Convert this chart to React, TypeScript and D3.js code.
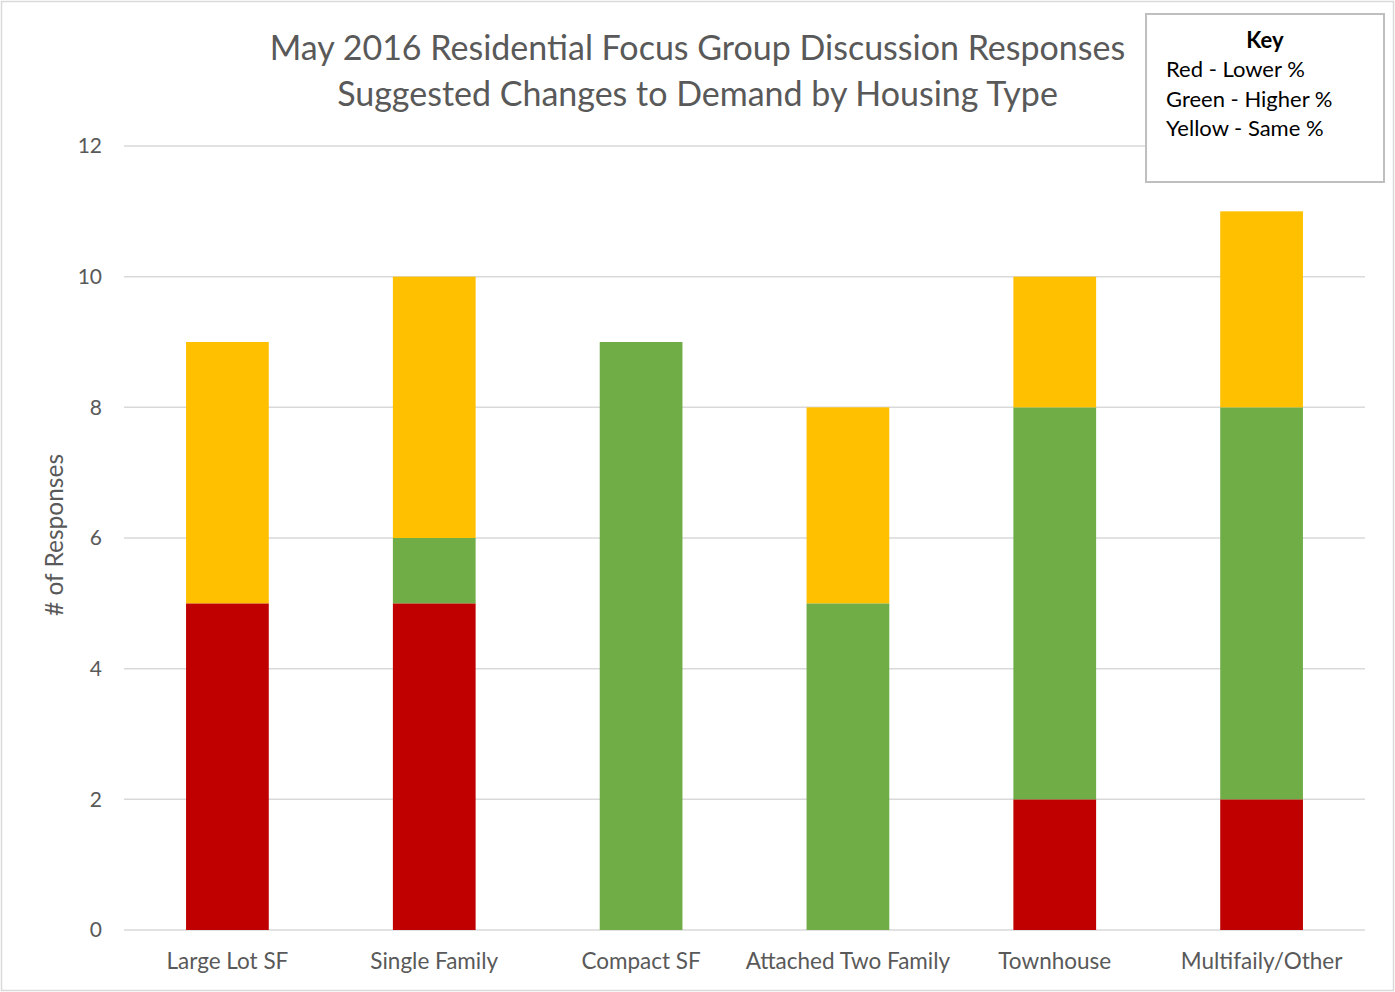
import React, { useRef, useEffect } from 'react';
import * as d3 from 'd3';

const categories = ['Large Lot SF', 'Single Family', 'Compact SF', 'Attached Two Family', 'Townhouse', 'Multifaily/Other'];
const lowerValues = [5, 5, 0, 0, 2, 2];
const higherValues = [0, 1, 9, 5, 6, 6];
const sameValues = [4, 4, 0, 3, 2, 3];
const yTicks = [0, 2, 4, 6, 8, 10, 12];
const titleLines = ['May 2016 Residential Focus Group Discussion Responses', 'Suggested Changes to Demand by Housing Type'];
const keyLines = ['Red - Lower %', 'Green - Higher %', 'Yellow - Same %'];

const seriesKeys = ['lower', 'higher', 'same'];
const seriesColors: Record<string, string> = { lower: '#C00000', higher: '#70AD47', same: '#FFC000' };

const W = 1395;
const H = 992;

const App: React.FC = () => {
  const svgRef = useRef<SVGSVGElement>(null);

  useEffect(() => {
    if (!svgRef.current) return;
    const svg = d3.select(svgRef.current);
    svg.selectAll('*').remove();

    const font = 'Lato, Carlito, Calibri, sans-serif';
    const margin = { left: 124, right: 30, top: 146, bottom: 62 };
    const innerW = W - margin.left - margin.right;
    const innerH = H - margin.top - margin.bottom;

    // outer border
    svg.append('rect')
      .attr('x', 1.5).attr('y', 1.5)
      .attr('width', W - 3).attr('height', H - 3)
      .attr('fill', '#fff').attr('stroke', '#D9D9D9').attr('stroke-width', 1.5);

    const x = d3.scaleBand<string>()
      .domain(categories)
      .range([0, innerW])
      .paddingInner(0.6)
      .paddingOuter(0.3);

    const y = d3.scaleLinear().domain([0, 12]).range([innerH, 0]);

    const g = svg.append('g').attr('transform', `translate(${margin.left},${margin.top})`);

    // gridlines
    g.selectAll('.grid')
      .data(yTicks)
      .join('line')
      .attr('x1', 0).attr('x2', innerW)
      .attr('y1', d => y(d)).attr('y2', d => y(d))
      .attr('stroke', '#D9D9D9').attr('stroke-width', 1.5);

    // y tick labels
    g.selectAll('.ytick')
      .data(yTicks)
      .join('text')
      .attr('x', -22).attr('y', d => y(d))
      .attr('dy', '0.35em')
      .attr('text-anchor', 'end')
      .attr('font-family', font).attr('font-size', 21)
      .attr('fill', '#595959')
      .text(d => d);

    const rows = categories.map((c, i) => ({ cat: c, lower: lowerValues[i], higher: higherValues[i], same: sameValues[i] }));
    const stacked = d3.stack<any>().keys(seriesKeys)(rows);

    g.selectAll('.series')
      .data(stacked)
      .join('g')
      .attr('fill', d => seriesColors[d.key])
      .selectAll('rect')
      .data(d => d.filter(p => p[1] - p[0] > 0))
      .join('rect')
      .attr('x', d => x(d.data.cat)!)
      .attr('width', x.bandwidth())
      .attr('y', d => y(d[1]))
      .attr('height', d => y(d[0]) - y(d[1]));

    // x labels
    g.selectAll('.xlabel')
      .data(categories)
      .join('text')
      .attr('x', d => x(d)! + x.bandwidth() / 2)
      .attr('y', innerH + 39)
      .attr('text-anchor', 'middle')
      .attr('font-family', font).attr('font-size', 22.5)
      .attr('fill', '#595959')
      .text(d => d);

    // y axis title
    svg.append('text')
      .attr('transform', `translate(63,${margin.top + innerH / 2 - 3}) rotate(-90)`)
      .attr('text-anchor', 'middle')
      .attr('font-family', font).attr('font-size', 24.5)
      .attr('fill', '#595959')
      .text('# of Responses');

    // title
    svg.selectAll('.title')
      .data(titleLines)
      .join('text')
      .attr('x', W / 2)
      .attr('y', (d, i) => 60 + i * 46)
      .attr('text-anchor', 'middle')
      .attr('font-family', font).attr('font-size', 34)
      .attr('fill', '#595959')
      .text(d => d);

    // key box
    const key = svg.append('g').attr('transform', 'translate(1146,14)');
    key.append('rect')
      .attr('width', 238).attr('height', 168)
      .attr('fill', '#fff').attr('stroke', '#BFBFBF').attr('stroke-width', 2);
    key.append('text')
      .attr('x', 119).attr('y', 34)
      .attr('text-anchor', 'middle')
      .attr('font-family', font).attr('font-size', 22).attr('font-weight', 'bold')
      .attr('fill', '#000')
      .text('Key');
    key.selectAll('.kl')
      .data(keyLines)
      .join('text')
      .attr('x', 20)
      .attr('y', (d, i) => 63 + i * 29.5)
      .attr('font-family', font).attr('font-size', 22)
      .attr('fill', '#000')
      .text(d => d);
  }, []);

  return (
    <div style={{ position: 'absolute', left: 0, top: 0 }}>
      <svg ref={svgRef} width={W} height={H} style={{ display: 'block' }}></svg>
    </div>
  );
};

export default App;
